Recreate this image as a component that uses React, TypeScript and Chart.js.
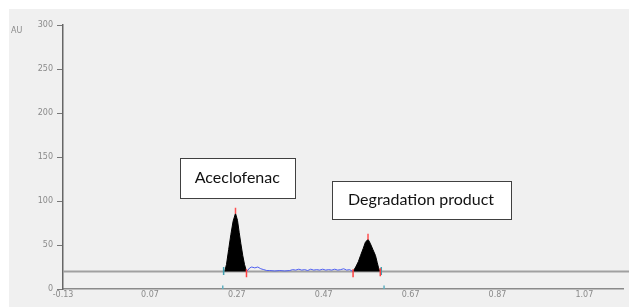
import { useEffect, useRef } from "react";
import { Chart, registerables } from "chart.js";

Chart.register(...registerables);

// ---- Data ----
const xTicks = [-0.13, 0.07, 0.27, 0.47, 0.67, 0.87, 1.07];
const yTicks = [0, 50, 100, 150, 200, 250, 300];
const xMin = -0.13;
const xMax = 1.16;
const yMin = 0;
const yMax = 300;
const baselineAU = 20;
const baselineEndRf = 1.18;

const peak1Rf = [0.2422, 0.2463, 0.2513, 0.2564, 0.2615, 0.267, 0.2716, 0.2756, 0.2792, 0.2837, 0.2877, 0.2923];
const peak1AU = [20, 28, 45, 62, 77, 86, 78, 64, 52, 38, 28, 20];

const peak2Rf = [0.5376, 0.5437, 0.5497, 0.5548, 0.5609, 0.5659, 0.572, 0.577, 0.5831, 0.5892, 0.5932, 0.5963, 0.5988];
const peak2AU = [20, 25, 31, 38, 46, 53, 56.5, 52, 45, 38, 30, 24, 20];

const noiseRf = [
  0.293, 0.2999, 0.3044, 0.3114, 0.3183, 0.3252, 0.3321, 0.3389, 0.3459, 0.3573, 0.3689, 0.3803,
  0.3918, 0.3987, 0.4056, 0.4126, 0.4194, 0.4263, 0.4332, 0.4401, 0.4471, 0.4539, 0.4608, 0.4677,
  0.4746, 0.4815, 0.4884, 0.4953, 0.5022, 0.5091, 0.5159, 0.5229, 0.5298, 0.5367,
];
const noiseAU = [
  20, 24, 25, 24, 25, 23, 22, 21, 21, 20.5, 21, 20.5, 21, 22, 21.5, 22.5, 21.5, 22, 21, 22.5,
  21.5, 22, 21.5, 22.5, 21.5, 22, 21.5, 22.5, 21.5, 22, 23, 21.5, 22, 20,
];

const apexMarkRf = [0.267, 0.572];
const apexMarkAU = [89, 59.5];
const redBoundRf = [0.2923, 0.5376, 0.6003];
const redBoundAU = [18, 18, 19];
const cyanBoundRf = [0.2397, 0.6025];
const cyanBoundAU = [20.5, 20.5];
const cyanAxisRf = [0.2377, 0.6089];
const cyanAxisAU = [0.5, 0.5];

const labelTexts = ["Aceclofenac", "Degradation product"];
const labelRf = [0.2711, 0.6941];
const labelAU = [126, 101];
const labelBoxW = [115, 179];
const labelBoxH = [40, 38];

const pts = (xs: number[], ys: number[]) => xs.map((x, i) => ({ x, y: ys[i] }));

const tickFont = "'DejaVu Sans', sans-serif";

export default function App() {
  const canvasRef = useRef<HTMLCanvasElement | null>(null);

  useEffect(() => {
    if (!canvasRef.current) return;

    const decorPlugin = {
      id: "decor",
      beforeDraw(chart: any) {
        const { ctx, width, height } = chart;
        ctx.save();
        ctx.fillStyle = "#ffffff";
        ctx.fillRect(0, 0, width, height);
        ctx.fillStyle = "#f0f0f0";
        ctx.fillRect(9, 9, width - 9, height - 9);
        ctx.restore();
      },
      afterDraw(chart: any) {
        const { ctx } = chart;
        const xs = chart.scales.x;
        const ys = chart.scales.y;
        ctx.save();
        ctx.fillStyle = "#8a8a8a";
        ctx.font = `8px ${tickFont}`;
        ctx.textBaseline = "middle";
        ctx.textAlign = "left";
        ctx.fillText("AU", 11, ys.getPixelForValue(yMax) + 6);
        ctx.fillText("Rf", xs.right - 11, xs.bottom + 11);

        ctx.font = "16px Lato, 'Open Sans', sans-serif";
        ctx.textAlign = "center";
        labelTexts.forEach((t, i) => {
          const cx = xs.getPixelForValue(labelRf[i]);
          const cy = ys.getPixelForValue(labelAU[i]);
          const w = labelBoxW[i];
          const h = labelBoxH[i];
          const l = Math.round(cx - w / 2);
          const tp = Math.round(cy - h / 2);
          ctx.fillStyle = "#ffffff";
          ctx.fillRect(l, tp, w, h);
          ctx.strokeStyle = "#404040";
          ctx.lineWidth = 1;
          ctx.strokeRect(l + 0.5, tp + 0.5, w, h);
          ctx.fillStyle = "#111";
          ctx.fillText(t, cx, cy);
        });
        ctx.restore();
      },
    };

    const marker = (label: string, xs: number[], ys: number[], color: string, r: number) =>
      ({
        label,
        data: pts(xs, ys),
        showLine: false,
        pointStyle: "line",
        rotation: 90,
        pointRadius: r,
        borderColor: color,
        borderWidth: 1.5,
        order: 0,
      }) as any;

    const chart = new Chart(canvasRef.current, {
      type: "line",
      data: {
        datasets: [
          marker("apex", apexMarkRf, apexMarkAU, "#ff5050", 3),
          marker("redBound", redBoundRf, redBoundAU, "#ff4040", 4),
          marker("cyanBound", cyanBoundRf, cyanBoundAU, "#40a0b0", 4),
          marker("cyanAxis", cyanAxisRf, cyanAxisAU, "#60b0c0", 3),
          {
            label: "peak1",
            data: pts(peak1Rf, peak1AU),
            borderColor: "#000",
            backgroundColor: "#000",
            borderWidth: 1,
            pointRadius: 0,
            fill: { value: baselineAU },
            tension: 0,
            order: 1,
          } as any,
          {
            label: "peak2",
            data: pts(peak2Rf, peak2AU),
            borderColor: "#000",
            backgroundColor: "#000",
            borderWidth: 1,
            pointRadius: 0,
            fill: { value: baselineAU },
            tension: 0,
            order: 1,
          } as any,
          {
            label: "noise",
            data: pts(noiseRf, noiseAU),
            borderColor: "#5060f0",
            borderWidth: 1,
            pointRadius: 0,
            fill: false,
            order: 2,
          } as any,
          {
            label: "baseline",
            data: pts([xMin, baselineEndRf], [baselineAU, baselineAU]),
            borderColor: "#a0a0a0",
            borderWidth: 2,
            pointRadius: 0,
            fill: false,
            clip: false,
            order: 3,
          } as any,
        ],
      },
      options: {
        animation: false,
        responsive: true,
        maintainAspectRatio: false,
        layout: { padding: { left: 0, top: 25, right: 0, bottom: 0 } },
        plugins: {
          legend: { display: false },
          tooltip: { enabled: false },
        },
        scales: {
          x: {
            type: "linear",
            min: xMin,
            max: xMax,
            afterBuildTicks: (s: any) => {
              s.ticks = xTicks.map((v) => ({ value: v }));
            },
            afterFit: (s: any) => {
              s.height = 18;
            },
            ticks: {
              autoSkip: false,
              maxRotation: 0,
              padding: 1,
              color: "#8a8a8a",
              font: { size: 8, family: tickFont },
              callback: (v: any) => Number(v).toFixed(2),
            },
            grid: { display: false, drawTicks: false },
            border: { display: true, color: "#8a8a8a", width: 1.5 },
          },
          y: {
            type: "linear",
            min: yMin,
            max: yMax,
            afterBuildTicks: (s: any) => {
              s.ticks = yTicks.map((v) => ({ value: v }));
            },
            afterFit: (s: any) => {
              s.width = 63;
            },
            ticks: {
              padding: 4,
              color: "#8a8a8a",
              font: { size: 8, family: tickFont },
            },
            grid: { drawOnChartArea: false, tickLength: 6, color: "#777", lineWidth: 1 },
            border: { display: true, color: "#666", width: 1.5 },
          },
        },
      } as any,
      plugins: [decorPlugin],
    });

    return () => chart.destroy();
  }, []);

  return (
    <div style={{ position: "absolute", left: 0, top: 0, width: 629, height: 307 }}>
      <canvas ref={canvasRef} />
    </div>
  );
}
